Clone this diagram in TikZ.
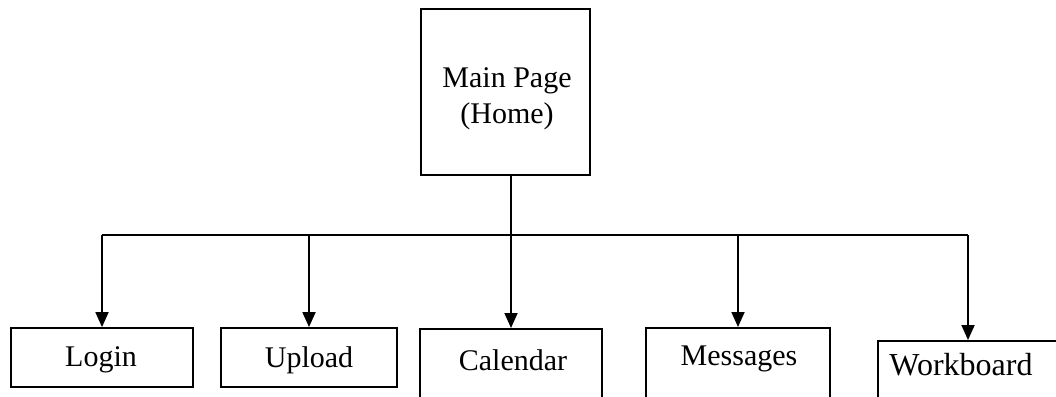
\documentclass[tikz,border=0pt]{standalone}
\usepackage{fontspec}
\setmainfont{Liberation Serif}
\usetikzlibrary{arrows.meta,calc}
\tikzset{
  box/.style={draw, line width=1.8pt, rectangle, inner sep=0pt},
  lbl/.style={font=\fontsize{30}{36}\selectfont, inner sep=0pt, align=center},
  conn/.style={line width=1.8pt},
  arr/.style={conn, -{Triangle[width=13pt,length=15pt]}}
}
\begin{document}
\begin{tikzpicture}[x=1pt,y=-1pt]
\useasboundingbox (0,0) rectangle (1056,396);
\clip (0,0) rectangle (1056,396);
% top-level page
\node[box, minimum width=169pt, minimum height=166pt] (main) at (505.5,92) {};
\node[lbl] (mainlbl) at (507,99) {Main Page\\(Home)};
% second-level pages
\node[box, minimum width=182pt, minimum height=59pt] (loginbox) at (102,357.5) {};
\node[lbl] (login) at (101,360) {Login};
\node[box, minimum width=176pt, minimum height=59pt] (uploadbox) at (309,357.5) {};
\node[lbl] (upload) at (309,360) {Upload};
\node[box, minimum width=182pt, minimum height=100pt, anchor=north] (calbox) at (511,328) {};
\node[lbl] (cal) at (513,360) {Calendar};
\node[box, minimum width=184pt, minimum height=100pt, anchor=north] (msgbox) at (738,327) {};
\node[lbl] (msg) at (739,359) {Messages};
\node[box, minimum width=200pt, minimum height=100pt, anchor=north west] (wbbox) at (877,340) {};
\node[lbl, font=\fontsize{32}{38}\selectfont] (wb) at (961,365) {Workboard};
% connectors
\coordinate (bar) at (0,235);
\coordinate (wbin) at (968,340);
\draw[arr] (main.south -| calbox.north) -- (calbox.north);
\draw[conn] (loginbox.north |- bar) -- (wbin |- bar);
\draw[arr] (loginbox.north |- bar) -- (loginbox.north);
\draw[arr] (uploadbox.north |- bar) -- (uploadbox.north);
\draw[arr] (msgbox.north |- bar) -- (msgbox.north);
\draw[arr] (wbin |- bar) -- (wbin);
\end{tikzpicture}
\end{document}
